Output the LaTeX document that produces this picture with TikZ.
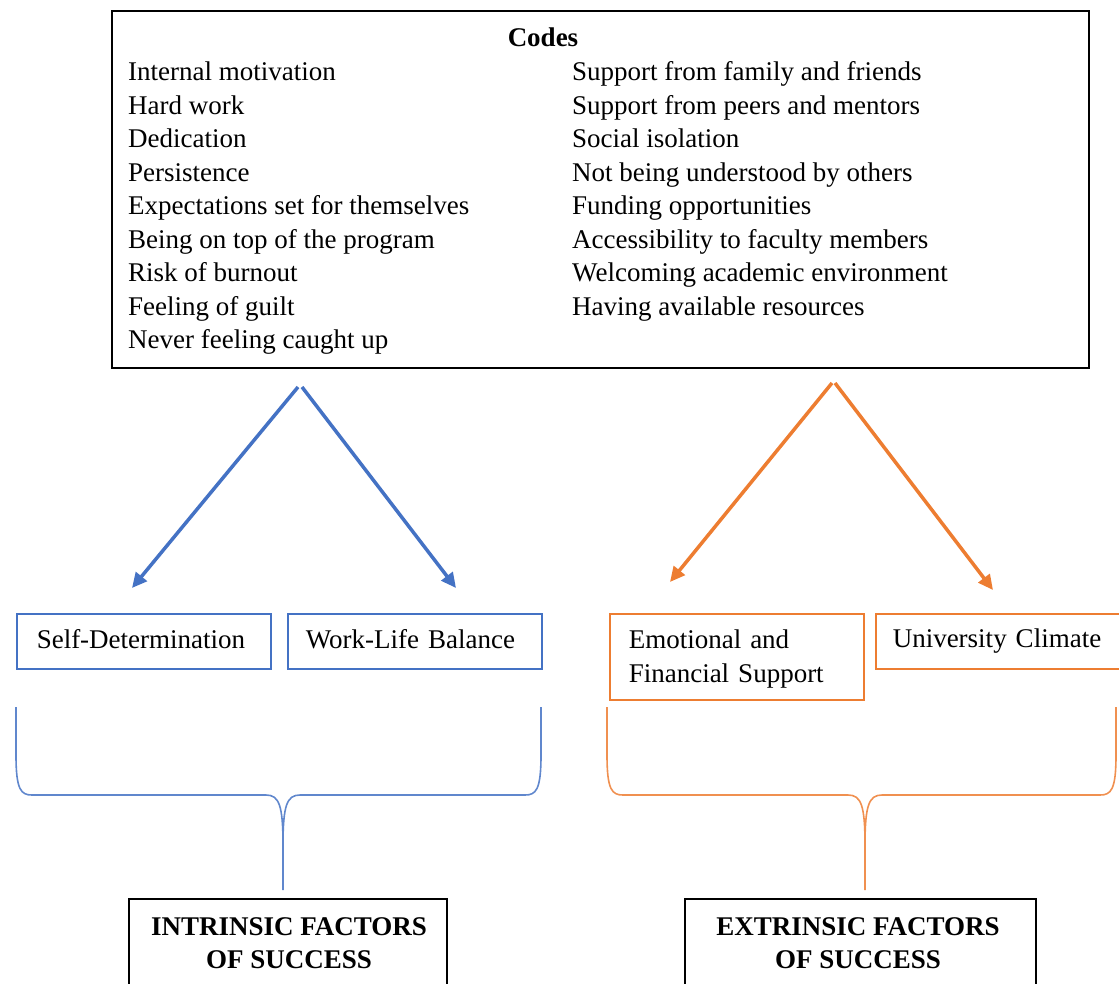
\documentclass[tikz,border=0pt]{standalone}
\usepackage{fontspec}
\setmainfont{Liberation Serif}
\usetikzlibrary{arrows.meta}
\definecolor{wblue}{HTML}{4472C4}
\definecolor{worange}{HTML}{ED7D31}
\begin{document}
\begin{tikzpicture}[x=1pt,y=-1pt,
  txt/.style={inner sep=0pt, font=\fontsize{27}{33.5}\selectfont},
  codesbox/.style={draw=black, line width=1.5pt, minimum width=977pt, minimum height=357pt, anchor=north west, inner sep=0pt},
  bluebox/.style={draw=wblue, line width=1.5pt, anchor=north west, minimum width=254pt, minimum height=55pt, align=left, font=\fontsize{27}{33.5}\selectfont},
  orangebox/.style={draw=worange, line width=1.5pt, anchor=north west, minimum width=254pt, align=left, font=\fontsize{27}{34}\selectfont},
  resultbox/.style={draw=black, line width=2pt, anchor=north, minimum height=120pt, inner sep=0pt},
  bluearrow/.style={draw=wblue, line width=3.5pt, -{Triangle[length=15pt,width=14pt]}},
  orangearrow/.style={draw=worange, line width=3.5pt, -{Triangle[length=15pt,width=14pt]}},
  bluebrace/.style={draw=wblue!85, line width=1.6pt},
  orangebrace/.style={draw=worange!85, line width=1.6pt},
]
\useasboundingbox (0,0) rectangle (1119,983);
\clip (0,0) rectangle (1119,983);

% Codes box
\node[codesbox] (codes) at (111,10) {};
\node[txt, anchor=base, font=\fontsize{27}{33.5}\selectfont\bfseries] (codestitle) at (543,46) {Codes};
\node[txt, anchor=north west, align=left] (leftcodes) at (128,61.7) {Internal motivation\\Hard work\\Dedication\\Persistence\\Expectations set for themselves\\Being on top of the program\\Risk of burnout\\Feeling of guilt\\Never feeling caught up};
\node[txt, anchor=north west, align=left] (rightcodes) at (572,61.7) {Support from family and friends\\Support from peers and mentors\\Social isolation\\Not being understood by others\\Funding opportunities\\Accessibility to faculty members\\Welcoming academic environment\\Having available resources};

% arrow anchor points
\coordinate (bstartL) at (298,387);
\coordinate (bstartR) at (302,387);
\coordinate (bendL) at (132,588);
\coordinate (bendR) at (456,588);
\coordinate (ostartL) at (832,383);
\coordinate (ostartR) at (835,383);
\coordinate (oendL) at (670,582);
\coordinate (oendR) at (993,590);

\draw[bluearrow] (bstartL) -- (bendL);
\draw[bluearrow] (bstartR) -- (bendR);
\draw[orangearrow] (ostartL) -- (oendL);
\draw[orangearrow] (ostartR) -- (oendR);

% theme boxes
\node[bluebox, inner xsep=20pt, text width=214pt] (selfdet) at (16,613) {Self-Determination\rule[-4pt]{0pt}{1pt}};
\node[bluebox, inner xsep=18pt, text width=218pt] (worklife) at (287,613) {Work-Life Balance\rule[-4pt]{0pt}{1pt}};
\node[orangebox, inner xsep=19pt, text width=216pt, minimum height=86pt] (emofin) at (609,613) {\rule{0pt}{24pt}Emotional and\\Financial Support};
\node[orangebox, inner xsep=17pt, text width=226pt, minimum height=55pt, minimum width=260pt] (univ) at (875,613) {University Climate};

% braces
\coordinate (bbL) at (16,707);
\coordinate (bbR) at (541,707);
\coordinate (bbTip) at (283,890);
\draw[bluebrace] (bbL) -- (16,755) .. controls (16,790) and (21,795) .. (32,795) -- (266,795)
  .. controls (279,795) and (283,805) .. (283,845) -- (bbTip);
\draw[bluebrace] (bbR) -- (541,755) .. controls (541,790) and (536,795) .. (525,795) -- (300,795)
  .. controls (287,795) and (283,805) .. (283,845);

\coordinate (obL) at (607,707);
\coordinate (obR) at (1116,707);
\coordinate (obTip) at (865,890);
\draw[orangebrace] (obL) -- (607,755) .. controls (607,790) and (612,795) .. (623,795) -- (848,795)
  .. controls (861,795) and (865,805) .. (865,845) -- (obTip);
\draw[orangebrace] (obR) -- (1116,755) .. controls (1116,790) and (1111,795) .. (1100,795) -- (882,795)
  .. controls (869,795) and (865,805) .. (865,845);

% result boxes
\node[resultbox, minimum width=318pt] (intr) at (288,898) {};
\node[txt, anchor=north, align=center, font=\fontsize{27}{33}\selectfont\bfseries] (intrtxt) at (289,917) {INTRINSIC FACTORS\\OF SUCCESS};
\node[resultbox, minimum width=351pt] (extr) at (860.5,898) {};
\node[txt, anchor=north, align=center, font=\fontsize{27}{33}\selectfont\bfseries] (extrtxt) at (858,917) {EXTRINSIC FACTORS\\OF SUCCESS};
\end{tikzpicture}
\end{document}
